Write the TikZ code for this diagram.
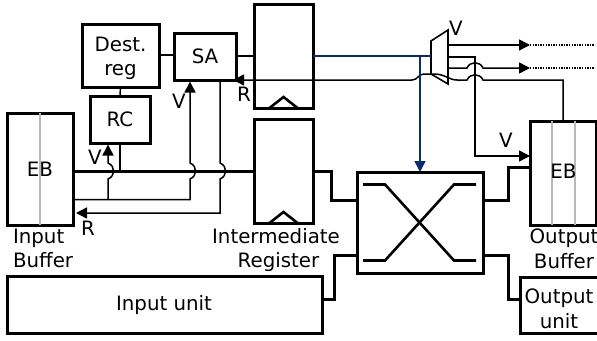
\documentclass[tikz,border=0pt]{standalone}
\usepackage{fontspec}
\setmainfont{DejaVu Sans}
\usetikzlibrary{arrows.meta,calc}
\tikzset{
  box/.style={draw=black,line width=3,fill=white,inner sep=0,outer sep=0,anchor=north west,align=center,font=\fontsize{19.8}{24.5}\selectfont},
  lbl/.style={inner sep=0,outer sep=0,align=center,font=\fontsize{19.8}{24.5}\selectfont},
  wire/.style={line width=1.5},
  thickwire/.style={line width=3},
  blue wire/.style={draw=bluew,line width=1.5},
  tip/.style={-{Triangle[length=11,width=11]}},
  grayline/.style={draw=gray!55,line width=1.3},
  dots/.style={draw=black,line width=1.3,dash pattern=on 1.3 off 1.3},
}
\definecolor{bluew}{HTML}{0B2A6B}
\def\hopup{.. controls +(7.5,-3) and +(7.5,3) .. ++(0,-16)}
\def\hopdown{.. controls +(7.5,3) and +(7.5,-3) .. ++(0,16)}
\def\hopl{.. controls +(-3,-7) and +(3,-7) .. ++(-16,0)}
\def\hopr{.. controls +(3,-7) and +(-3,-7) .. ++(16,0)}
\begin{document}
\begin{tikzpicture}[x=1pt,y=-1pt]
\useasboundingbox (0,0) rectangle (597,340);
% boxes
\node[box,minimum width=77,minimum height=63] (dest) at (82,24) {};
\node[box,minimum width=62,minimum height=47] (sa) at (174,33) {SA};
\node[box,minimum width=60,minimum height=47] (rc) at (90,96) {RC};
\node[box,minimum width=66,minimum height=112] (ebi) at (7,113) {};
\node[box,minimum width=59,minimum height=104] (regu) at (254,4) {};
\node[box,minimum width=59,minimum height=104] (regl) at (254,119) {};
\node[box,minimum width=126,minimum height=101] (xbar) at (357,172) {};
\node[box,minimum width=66,minimum height=104] (ebo) at (530,121) {};
\node[box,minimum width=315,minimum height=57] (iu) at (7,276) {};
\node[box,minimum width=78,minimum height=56] (ou) at (520,277) {};
\node[lbl] (destt) at (120.5,58.5) {Dest.\\reg};
\node[lbl] (iut) at (164,305) {Input unit};
\node[lbl] (out) at (559,309) {Output\\unit};
% inner details
\draw[grayline] (ebi.north) -- (ebi.south);
\draw[grayline] ($(ebo.north west)+(22,0)$) -- ($(ebo.south west)+(22,0)$);
\draw[grayline] ($(ebo.north west)+(45,0)$) -- ($(ebo.south west)+(45,0)$);
\node[lbl] (ebit) at (ebi.center) {EB};
\node[lbl] (ebot) at (563.5,171) {EB};
\draw[line width=2.6] ($(regu.south)+(-14,0)$) -- ($(regu.south)+(0,-11)$) -- ($(regu.south)+(14,0)$);
\draw[line width=2.6] ($(regl.south)+(-14,0)$) -- ($(regl.south)+(0,-11)$) -- ($(regl.south)+(14,0)$);
% crossbar X
\coordinate (xc) at (xbar.center);
\draw[line width=2.6] ($(xc)+(-57,-38)$) -- ($(xc)+(-35,-38)$) -- ($(xc)+(34,38)$) -- ($(xc)+(56,38)$);
\draw[line width=2.6] ($(xc)+(-57,38)$) -- ($(xc)+(-35,38)$) -- ($(xc)+(34,-38)$) -- ($(xc)+(56,-38)$);
% mux
\coordinate (m1) at (431,41); \coordinate (m2) at (448,30);
\coordinate (m3) at (448,84); \coordinate (m4) at (431,74);
\draw[line width=1.6,line join=miter] (m1) -- (m2) -- (m3) -- (m4) -- cycle;
% thin wires
\draw[wire] (dest.east |- 0,55) -- (sa.west |- 0,55);
\draw[wire] (sa.east |- 0,56) -- (regu.west |- 0,56);
\draw[wire] (dest.south) -- (rc.north);
\draw[wire] (rc.south) -- (rc.south |- 0,171);
% buses
\draw[thickwire] (ebi.east |- 0,171) -- (regl.west |- 0,171);
\draw[thickwire] (regl.east |- 0,171) -- (331,171) -- (331,200) -- (xbar.west |- 0,200);
\draw[thickwire] (xbar.west |- 0,255) -- (334,255) -- (334,299) -- (iu.east |- 0,299);
\draw[thickwire] (xbar.east |- 0,200) -- (508,200) -- (508,167) -- (ebo.west |- 0,167);
\draw[thickwire] (xbar.east |- 0,255) -- (508,255) -- (508,299) -- (ou.west |- 0,299);
% control wires
\coordinate (rctip) at (108,144.5);
\coordinate (satip) at (190,81.5);
\draw[wire,tip] (ebi.east |- 0,199.5) -- (190,199.5) -- (190,179) \hopup -- (satip);
\draw[wire,tip] (108,199.5) -- (108,179) \hopup -- (rctip);
\draw[wire,tip] (220,80) -- (220,163) \hopdown -- (220,213) -- ($(ebi.east |- 0,213)+(3,0)$);
\draw[wire,tip] (563,121) -- (563,80) -- (483,80) \hopl -- (457,80)
   .. controls (449,80) and (445,74) .. (434,74) -- (424,74) .. controls (418,74) and (418,80) .. (412,80) -- ($(sa.south east)+(-3,0)$);
% blue wires
\draw[blue wire] (regu.east |- 0,56) -- (m1 |- 0,56);
\draw[blue wire,tip] (420,56) -- (xbar.north -| 420,0);
% mux outputs
\coordinate (o1) at (530,45); \coordinate (o2) at (530,68);
\draw[wire,tip] (448,45) -- (o1);
\draw[dots] (o1) -- (595,45);
\draw[wire,tip] (448,68) -- (467,68) \hopr -- (o2);
\draw[dots] (o2) -- (595,68);
\draw[wire,tip] (449,57) -- (475,57) -- (475,156) -- (ebo.west |- 0,156);
% labels
\node[lbl] (v1) at (179,101) {V};
\node[lbl] (v2) at (95,157) {V};
\node[lbl] (r1) at (244,94) {R};
\node[lbl] (r2) at (88,228) {R};
\node[lbl] (v3) at (456,28) {V};
\node[lbl] (v4) at (506,140) {V};
\node[lbl,align=left,anchor=north west] (ib) at (13,229) {Input\\Buffer};
\node[lbl,align=center,anchor=north] (ir) at (276,228) {Intermediate\\\hspace*{5pt}Register};
\node[lbl,align=center,anchor=north] (ob) at (564,229) {Output\\Buffer};
\end{tikzpicture}
\end{document}
